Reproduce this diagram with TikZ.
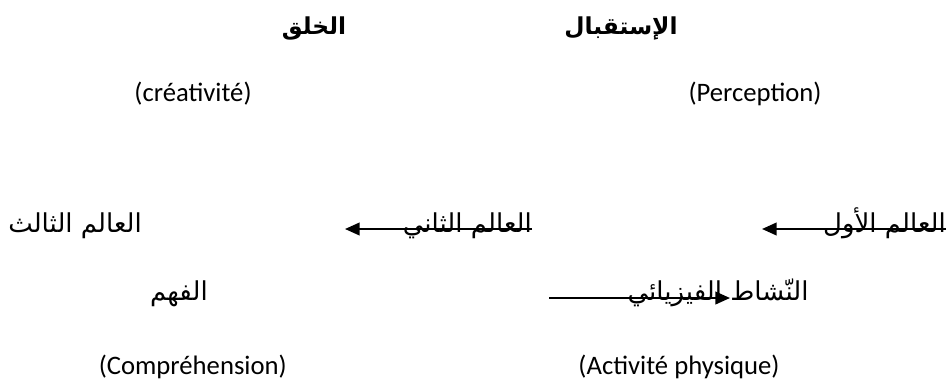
\documentclass[tikz,border=0pt]{standalone}
\usepackage{fontspec}
\setmainfont{Carlito}
\newfontfamily\arabicfont[Script=Arabic]{DejaVu Sans}
\TeXXeTstate=1
\usetikzlibrary{arrows.meta}
\tikzset{
  ar/.style={font=\arabicfont\fontsize{19.5}{22}\selectfont, inner sep=0pt},
  arb/.style={font=\arabicfont\bfseries\fontsize{17.5}{20}\selectfont, inner sep=0pt, anchor=base},
  lat/.style={font=\fontsize{20}{24}\selectfont, inner sep=0pt},
  arr/.style={line width=1.5pt, -{Triangle[length=11pt,width=9.5pt]}}
}
\begin{document}
\begin{tikzpicture}[x=0.75pt,y=-0.75pt]
\useasboundingbox (0,0) rectangle (952,383);
% top
\node[arb] (khalq) at (314,34) {\beginR الخلق\endR};
\node[arb] (istiqbal) at (621,34) {\beginR الإستقبال\endR};
\node[lat, anchor=base] (creat) at (193,101) {(créativité)};
\node[lat, anchor=base] (perc) at (755,101) {(Perception)};
% row 2
\node[ar, anchor=base west] (w3) at (8,232) {\beginR العالم الثالث\endR};
\node[ar, anchor=base east] (w2) at (532,232) {\beginR العالم الثاني\endR};
\node[ar, anchor=base east] (w1) at (946,232) {\beginR العالم الأول\endR};
\coordinate (a1s) at (532,229);
\coordinate (a1e) at (345,229);
\coordinate (a2s) at (946,229);
\coordinate (a2e) at (762,229);
\draw[arr] (a1s) -- (a1e);
\draw[arr] (a2s) -- (a2e);
% row 3
\node[ar, anchor=base east] (fahm) at (208,300) {\beginR الفهم\endR};
\node[ar, anchor=base] (nashat) at (718,300) {\beginR النّشاط الفيزيائي\endR};
\coordinate (a3s) at (549,298);
\coordinate (a3e) at (730,298);
\draw[arr] (a3s) -- (a3e);
% bottom
\node[lat, anchor=base east] (compr) at (287,374) {(Compréhension)};
\node[lat, anchor=base] (activ) at (679,374) {(Activité physique)};
\end{tikzpicture}
\end{document}
